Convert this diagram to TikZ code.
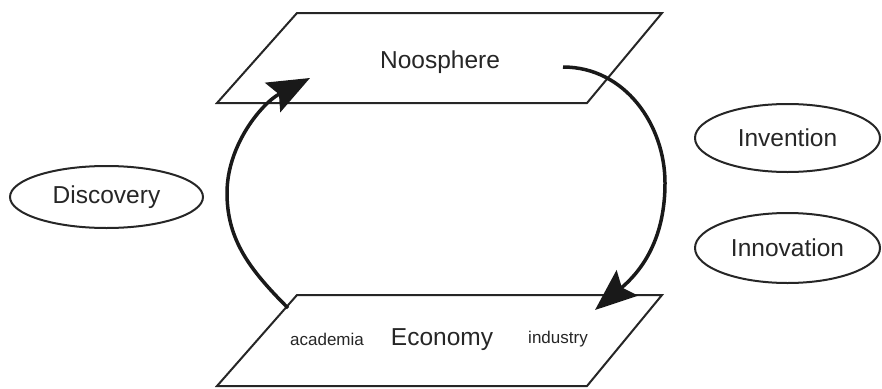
\documentclass[tikz,border=0pt]{standalone}
\usepackage{fontspec}
\setmainfont{Liberation Sans}
\usetikzlibrary{arrows.meta,shapes.geometric}
\begin{document}
\begin{tikzpicture}[x=1pt,y=-1pt,
  plane/.style={draw=black!85,line width=2pt,line join=miter,fill=white},
  big/.style={font=\fontsize{24.5}{28}\selectfont,text=black!85,inner sep=0pt},
  small/.style={font=\fontsize{17}{20}\selectfont,text=black!85,inner sep=0pt},
  oval/.style={ellipse,draw=black!85,line width=2pt,minimum width=#1,font=\fontsize{24.5}{28}\selectfont,text=black!85,inner sep=0pt},
  flow/.style={line width=3.5pt,black!90,-{Stealth[length=42pt 0 0,width=33pt 0,inset=7pt 0]}}]
\useasboundingbox (0,0) rectangle (882,388);
% planes
\draw[plane] (297,13) -- (662,13) -- (587,103) -- (217,103) -- cycle;
\draw[plane] (297,295) -- (662,295) -- (587,386) -- (217,386) -- cycle;
\node[big] (noo) at (440,62) {Noosphere};
\node[big] (eco) at (442,340) {Economy};
\node[small] (aca) at (327,339) {academia};
\node[small] (ind) at (558,339) {industry};
% ovals
\node[oval=193pt,minimum height=62pt] (dis) at (106.5,197) {Discovery};
\node[oval=185pt,minimum height=68pt] (inv) at (787.5,138) {Invention};
\node[oval=185pt,minimum height=70pt] (inn) at (787.5,248) {Innovation};
% arrow anchors
\coordinate (ls) at (288,308);
\coordinate (lm) at (227,193);
\coordinate (le) at (310,78);
\coordinate (rs) at (563,67);
\coordinate (rm) at (665,183);
\coordinate (re) at (595,310);
\draw[flow] (ls) .. controls (250,270) and (227,240) .. (lm) .. controls (227,145) and (262,103) .. (le);
\draw[flow] (rs) .. controls (625,67) and (665,125) .. (rm) .. controls (665,235) and (645,268) .. (re);
\end{tikzpicture}
\end{document}
